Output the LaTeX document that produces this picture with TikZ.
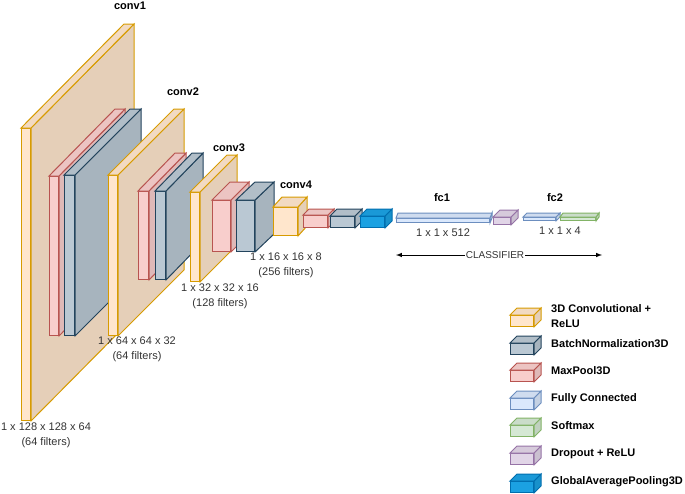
\documentclass[tikz,border=0pt]{standalone}
\usepackage{fontspec}
\setmainfont{Liberation Sans}
\usetikzlibrary{positioning}

\definecolor{conv}{HTML}{FFE6CC}
\definecolor{convline}{HTML}{D79B00}
\definecolor{pool}{HTML}{F8CECC}
\definecolor{poolline}{HTML}{B85450}
\definecolor{bn}{HTML}{BAC8D3}
\definecolor{bnline}{HTML}{23445D}
\definecolor{fc}{HTML}{DAE8FC}
\definecolor{fcline}{HTML}{6C8EBF}
\definecolor{soft}{HTML}{D5E8D4}
\definecolor{softline}{HTML}{82B366}
\definecolor{drop}{HTML}{E1D5E7}
\definecolor{dropline}{HTML}{9673A6}
\definecolor{gap}{HTML}{1BA1E2}
\definecolor{gapline}{HTML}{006EAF}
\definecolor{dimgray}{HTML}{333333}

% name, kind, x, y, width, height, depth x, depth y
\newcommand{\cuboid}[8]{%
  \node at (#3,#4) [anchor=north west,draw=#2line,fill=#2,line width=1pt,inner sep=0pt,minimum width=#5pt,minimum height=#6pt] (#1) {};
  \filldraw[draw=#2line,fill=#2!90!black,line width=1pt] (#1.north east) -- ([shift={(#7,#8)}]#1.north east) -- ([shift={(#7,#8)}]#1.south east) -- (#1.south east) -- cycle;
  \filldraw[draw=#2line,fill=#2!95!black,line width=1pt] (#1.north west) -- ([shift={(#7,#8)}]#1.north west) -- ([shift={(#7,#8)}]#1.north east) -- (#1.north east) -- cycle;
}

\tikzset{
  layername/.style={font=\fontsize{11}{13}\selectfont\bfseries,inner sep=0pt},
  dims/.style={font=\fontsize{11}{15}\selectfont,text=dimgray,align=center,inner sep=0pt},
  legendtext/.style={font=\fontsize{11}{15}\selectfont\bfseries,align=left,anchor=west,inner sep=0pt}
}

\begin{document}
\begin{tikzpicture}[x=1pt,y=-1pt]
  \useasboundingbox (0,0) rectangle (685,493);

  % feature extractor
  \cuboid{conv1}{conv}{21}{128}{9}{292}{103}{-104}
  \cuboid{pool1}{pool}{49}{176}{9}{159}{66}{-67}
  \cuboid{bn1}{bn}{64}{175}{10}{160}{66}{-66}
  \cuboid{conv2}{conv}{108}{175}{9}{160}{66}{-66}
  \cuboid{pool2}{pool}{138}{191}{10}{88}{37}{-38}
  \cuboid{bn2}{bn}{155}{191}{10}{88}{37}{-38}
  \cuboid{conv3}{conv}{190}{192}{9}{89}{37}{-37}
  \cuboid{pool3}{pool}{212}{200}{18}{51}{18}{-18}
  \cuboid{bn3}{bn}{236}{200}{18}{51}{19}{-18}
  \cuboid{conv4}{conv}{273}{207}{24}{28}{9}{-10}
  \cuboid{pool4}{pool}{303}{215}{24}{12}{6}{-6}
  \cuboid{bn4}{bn}{330}{216}{24}{11}{7}{-7}
  \cuboid{gap1}{gap}{360}{216}{24}{11}{7}{-7}

  % classifier
  \cuboid{fc1}{fc}{396}{218}{93}{4}{2}{-5}
  \cuboid{drop1}{drop}{493}{217}{17}{7}{7}{-7}
  \cuboid{fc2}{fc}{523}{217}{32}{3}{4}{-4}
  \cuboid{soft1}{soft}{560}{217}{35}{3}{3}{-4}

  \node at (130,6) [layername] (conv1name) {conv1};
  \node at (183,92) [layername] (conv2name) {conv2};
  \node at (229,148) [layername] (conv3name) {conv3};
  \node at (296,185) [layername] (conv4name) {conv4};
  \node at (442,198) [layername] (fc1name) {fc1};
  \node at (555,198) [layername] (fc2name) {fc2};

  \node at (46,435.5) [dims] (conv1dims) {1 x 128 x 128 x 64\\(64 filters)};
  \node at (137,349.5) [dims] (conv2dims) {1 x 64 x 64 x 32\\(64 filters)};
  \node at (220,296.5) [dims] (conv3dims) {1 x 32 x 32 x 16\\(128 filters)};
  \node at (286,265) [dims] (conv4dims) {1 x 16 x 16 x 8\\(256 filters)};
  \node at (443,233) [dims] (fc1dims) {1 x 1 x 512};
  \node at (560,231) [dims] (fc2dims) {1 x 1 x 4};

  \node at (495,255) [dims,font=\fontsize{10}{12}\selectfont,inner xsep=1pt] (classifier) {CLASSIFIER};
  \coordinate (clsleft) at (396,255);
  \coordinate (clsright) at (602,255);
  \draw[->,>=latex,line width=1pt] (classifier.west) -- (clsleft);
  \draw[->,>=latex,line width=1pt] (classifier.east) -- (clsright);

  % legend
  \foreach \kind/\ty/\txt in {conv/308/{3D Convolutional +\\ReLU},bn/336/{BatchNormalization3D},pool/363/{MaxPool3D},fc/391/{Fully Connected},soft/418/{Softmax},drop/446/{Dropout + ReLU},gap/474/{GlobalAveragePooling3D}} {
    \cuboid{lg\kind}{\kind}{510}{\ty+7}{23}{11}{7}{-7}
    \node at (551,\ty+8) [legendtext] (lgtext\kind) {\txt};
  }
\end{tikzpicture}
\end{document}
